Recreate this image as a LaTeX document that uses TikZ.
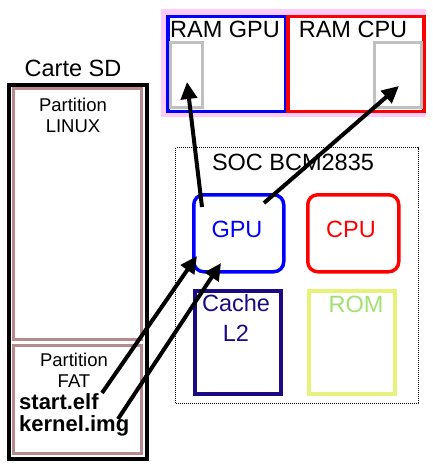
\documentclass[tikz,border=0pt]{standalone}
\usepackage{fontspec}
\setmainfont{Liberation Sans}
\usetikzlibrary{arrows.meta}
\definecolor{rosy}{HTML}{B8898E}
\definecolor{pinkbg}{HTML}{FFCCFA}
\definecolor{navyc}{HTML}{1C0A84}
\definecolor{romy}{HTML}{E6F27A}
\definecolor{romg}{HTML}{A2E070}
\definecolor{slotg}{HTML}{C0C0C0}
\tikzset{
  box/.style={draw, inner sep=0pt, anchor=north west},
  lbl/.style={font=\fontsize{23.5}{23.5}\selectfont, inner sep=0pt},
  small/.style={font=\fontsize{18.5}{21}\selectfont, inner sep=0pt, align=center},
  fname/.style={font=\fontsize{22}{24}\selectfont\bfseries, inner sep=0pt, anchor=west},
  arr/.style={line width=4pt, -{Triangle[length=17pt,width=16pt]}},
}
\begin{document}
\begin{tikzpicture}[x=1pt,y=-1pt]
\useasboundingbox (0,0) rectangle (433,468);
% SD card
\node[lbl] (sdlabel) at (73,68) {Carte SD};
\node[box, line width=4pt, minimum width=138pt, minimum height=374pt] (sd) at (7,83) {};
\node[box, draw=rosy, line width=3pt, minimum width=128pt, minimum height=251pt] (linux) at (12,87) {};
\node[box, draw=rosy, line width=3pt, minimum width=128pt, minimum height=108pt] (fat) at (12,344) {};
\node[small] (linuxtxt) at (73,115) {Partition\\LINUX};
\node[small] (fattxt) at (74,370) {Partition\\FAT};
\node[fname] (startelf) at (19,402) {start.elf};
\node[fname] (kernel) at (19,426) {kernel.img};
% RAM
\node[box, draw=none, fill=pinkbg, minimum width=265pt, minimum height=108pt] (rambg) at (161,9) {};
\node[box, draw=blue, line width=3.5pt, fill=white, minimum width=118pt, minimum height=95pt] (ramgpu) at (166,15) {};
\node[box, draw=red, line width=3.5pt, fill=white, minimum width=136pt, minimum height=95pt] (ramcpu) at (286,15) {};
\node[box, draw=slotg, line width=3pt, minimum width=32pt, minimum height=65pt] (slotgpu) at (169,41) {};
\node[box, draw=slotg, line width=3pt, minimum width=47pt, minimum height=65pt] (slotcpu) at (373,41) {};
\node[lbl] (ramgputxt) at (225,29) {RAM GPU};
\node[lbl] (ramcputxt) at (353,29) {RAM CPU};
% SOC
\node[box, densely dotted, line width=1pt, minimum width=243pt, minimum height=256pt] (soc) at (175,147) {};
\node[lbl] (soctxt) at (293,162) {SOC BCM2835};
\node[box, draw=blue, line width=3.5pt, rounded corners=10pt, minimum width=90pt, minimum height=77pt] (gpu) at (192,193) {};
\node[lbl, text=blue] (gputxt) at (237,229) {GPU};
\node[box, draw=red, line width=3.5pt, rounded corners=10pt, minimum width=91pt, minimum height=77pt] (cpu) at (306,193) {};
\node[lbl, text=red] (cputxt) at (351,229) {CPU};
\node[box, draw=navyc, line width=4pt, minimum width=86pt, minimum height=103pt] (cache) at (193,289) {};
\node[lbl, text=navyc, align=center, font=\fontsize{23.5}{30}\selectfont] (cachetxt) at (236,318) {Cache\\L2};
\node[box, draw=romy, line width=3.5pt, minimum width=86pt, minimum height=103pt] (rom) at (307,289) {};
\node[lbl, text=romg] (romtxt) at (356,304) {ROM};
% arrows
\coordinate (a1s) at (202,207);
\coordinate (a1e) at (187,82);
\coordinate (a2s) at (264,203);
\coordinate (a2e) at (399,86);
\coordinate (a3s) at (102,393);
\coordinate (a3e) at (197,256);
\coordinate (a4s) at (118,419);
\coordinate (a4e) at (221,263);
\draw[arr] (a1s) -- (a1e);
\draw[arr] (a2s) -- (a2e);
\draw[arr] (a3s) -- (a3e);
\draw[arr] (a4s) -- (a4e);
\end{tikzpicture}
\end{document}
